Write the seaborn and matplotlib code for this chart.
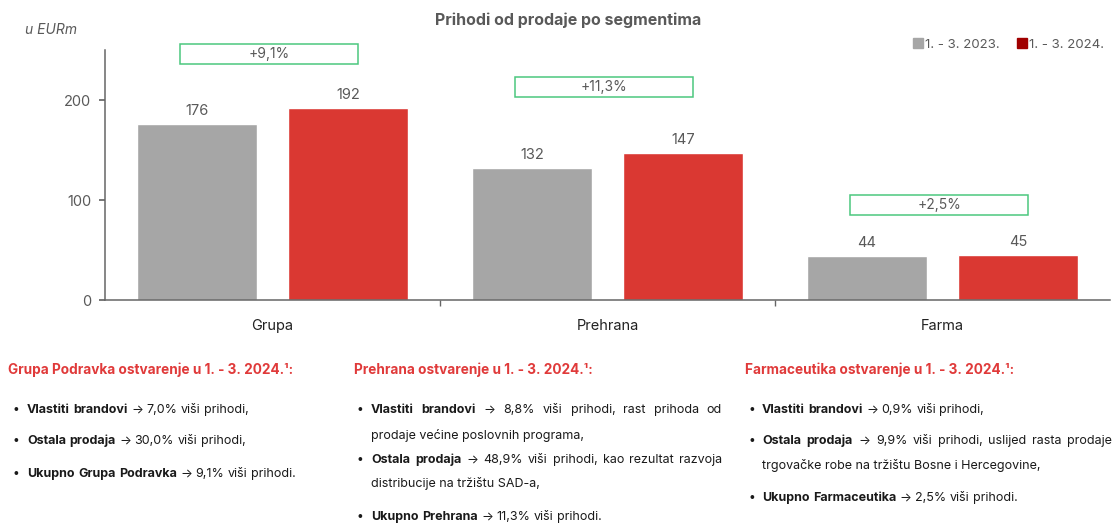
import seaborn as sns
import matplotlib.pyplot as plt
import pandas as pd
from matplotlib.patches import Rectangle
from matplotlib.lines import Line2D

# data
segments = ['Grupa', 'Prehrana', 'Farma']
periods = ['1. - 3. 2023.', '1. - 3. 2024.']
rev_2023 = [176, 132, 44]
rev_2024 = [192, 147, 45]
growth_labels = ['+9,1%', '+11,3%', '+2,5%']
growth_box_y = [246, 213, 95]

GRAY = '#A6A6A6'
RED = '#DA3832'
TXT = '#595959'
BODY = '#1a1a1a'
W, H = 1116, 523
BODY_SIZE = 9


def fx(px):
    return px / W


def fy(py):
    return 1 - py / H


def rich_line(fig, x, y, pieces, width=None):
    # draws bold/regular words one after another; spreads them out when width is given
    r = fig.canvas.get_renderer()
    words = []
    for txt, weight in pieces:
        for w in txt.split():
            words.append((w, weight))
    arts = []
    for w, weight in words:
        t = fig.text(x, y, w, fontsize=BODY_SIZE, fontweight=weight, color=BODY,
                     va='center', ha='left', family=['Inter', 'DejaVu Sans'])
        arts.append(t)
    widths = [fig.transFigure.inverted().transform((t.get_window_extent(r).width, 0))[0]
              - fig.transFigure.inverted().transform((0, 0))[0] for t in arts]
    if width is None:
        sp = fig.text(0, 0, 'a a', fontsize=BODY_SIZE, family=['Inter', 'DejaVu Sans'])
        sa = fig.text(0, 0, 'aa', fontsize=BODY_SIZE, family=['Inter', 'DejaVu Sans'])
        gap = (sp.get_window_extent(r).width - sa.get_window_extent(r).width) / W
        sp.remove()
        sa.remove()
    else:
        gap = (width - sum(widths)) / (len(arts) - 1)
    cx = x
    for t, wd in zip(arts, widths):
        t.set_x(cx)
        cx += wd + gap


sns.set_theme(style='white')
plt.rcParams['font.family'] = ['Inter', 'DejaVu Sans']

df = pd.DataFrame({
    'Segment': segments * 2,
    'Period': [periods[0]] * 3 + [periods[1]] * 3,
    'Value': rev_2023 + rev_2024,
})

fig = plt.figure(figsize=(W / 100, H / 100), dpi=100)
ax = fig.add_axes([fx(105), fy(300), fx(1110) - fx(105), fy(50) - fy(300)])

sns.barplot(data=df, x='Segment', y='Value', hue='Period', order=segments,
            hue_order=periods, palette={periods[0]: GRAY, periods[1]: RED},
            width=0.9, gap=0.2, legend=False, ax=ax, saturation=1)

for c in ax.containers:
    ax.bar_label(c, fmt='%d', padding=4, color=TXT, fontsize=10.5)

for i, (lab, yb) in enumerate(zip(growth_labels, growth_box_y)):
    ax.add_patch(Rectangle((i - 0.275, yb - 10), 0.53, 20, fill=False,
                           edgecolor='#4CC77F', linewidth=1.1, clip_on=False))
    ax.text(i - 0.01, yb, lab, ha='center', va='center', color=TXT, fontsize=10)

ax.set_xlim(-0.5, 2.5)
ax.set_ylim(0, 250)
ax.set_yticks([0, 100, 200])
ax.set_xlabel('')
ax.set_ylabel('')
sns.despine(ax=ax)
for s in ['left', 'bottom']:
    ax.spines[s].set_color('#666666')
    ax.spines[s].set_linewidth(1.1)
ax.tick_params(axis='y', left=True, length=4, color='#666666', labelcolor=TXT,
               labelsize=10.5, pad=6)
ax.tick_params(axis='x', bottom=False, labelcolor='#222222', labelsize=10.5, pad=8)
ax.set_xticks([0.5, 1.5], minor=True)
ax.tick_params(axis='x', which='minor', bottom=True, length=4, color='#666666')

fig.text(fx(568), fy(20), 'Prihodi od prodaje po segmentima', ha='center', va='center',
         fontsize=11.5, fontweight='bold', color=TXT)
fig.text(fx(25), fy(30), 'u EURm', ha='left', va='center', fontsize=10,
         style='italic', color=TXT)

handles = [Line2D([], [], marker='s', linestyle='', color=GRAY, markersize=7),
           Line2D([], [], marker='s', linestyle='', color='#A00000', markersize=7)]
fig.legend(handles, periods, loc='center right', bbox_to_anchor=(fx(1116), fy(45)),
           ncol=2, frameon=False, fontsize=9.5, labelcolor=TXT, handletextpad=0.05,
           columnspacing=1.2, handlelength=1)

# commentary below the chart
heads = [(8, 'Grupa Podravka ostvarenje u 1. - 3. 2024.¹:'),
         (354, 'Prehrana ostvarenje u 1. - 3. 2024.¹:'),
         (745, 'Farmaceutika ostvarenje u 1. - 3. 2024.¹:')]
for x, h in heads:
    fig.text(fx(x), fy(370), h, color='#E03A3A', fontsize=9.8, fontweight='bold',
             va='center', ha='left')

col1 = [(410, [('Vlastiti brandovi', 'bold'), ('→ 7,0% viši prihodi,', 'normal')], None),
        (441, [('Ostala prodaja', 'bold'), ('→ 30,0% viši prihodi,', 'normal')], None),
        (474, [('Ukupno Grupa Podravka', 'bold'), ('→ 9,1% viši prihodi.', 'normal')], None)]
col2 = [(410, [('Vlastiti brandovi', 'bold'), ('→ 8,8% viši prihodi, rast prihoda od', 'normal')], 722),
        (460, [('Ostala prodaja', 'bold'), ('→ 48,9% viši prihodi, kao rezultat razvoja', 'normal')], 722),
        (517, [('Ukupno Prehrana', 'bold'), ('→ 11,3% viši prihodi.', 'normal')], None)]
col2_cont = [(435, 'prodaje većine poslovnih programa,'),
             (484, 'distribucije na tržištu SAD-a,')]
col3 = [(410, [('Vlastiti brandovi', 'bold'), ('→ 0,9% viši prihodi,', 'normal')], None),
        (441, [('Ostala prodaja', 'bold'), ('→ 9,9% viši prihodi, uslijed rasta prodaje', 'normal')], 1112),
        (498, [('Ukupno Farmaceutika', 'bold'), ('→ 2,5% viši prihodi.', 'normal')], None)]
col3_cont = [(466, 'trgovačke robe na tržištu Bosne i Hercegovine,')]

for bx, tx, lines, cont in [(12, 27, col1, []), (357, 371, col2, col2_cont),
                            (749, 762, col3, col3_cont)]:
    for y, pieces, right in lines:
        fig.text(fx(bx), fy(y), '•', fontsize=8.5, color=BODY, va='center')
        rich_line(fig, fx(tx), fy(y), pieces, None if right is None else fx(right) - fx(tx))
    for y, t in cont:
        fig.text(fx(tx), fy(y), t, fontsize=BODY_SIZE, color=BODY, va='center')

fig.savefig('out.png', dpi=100)
